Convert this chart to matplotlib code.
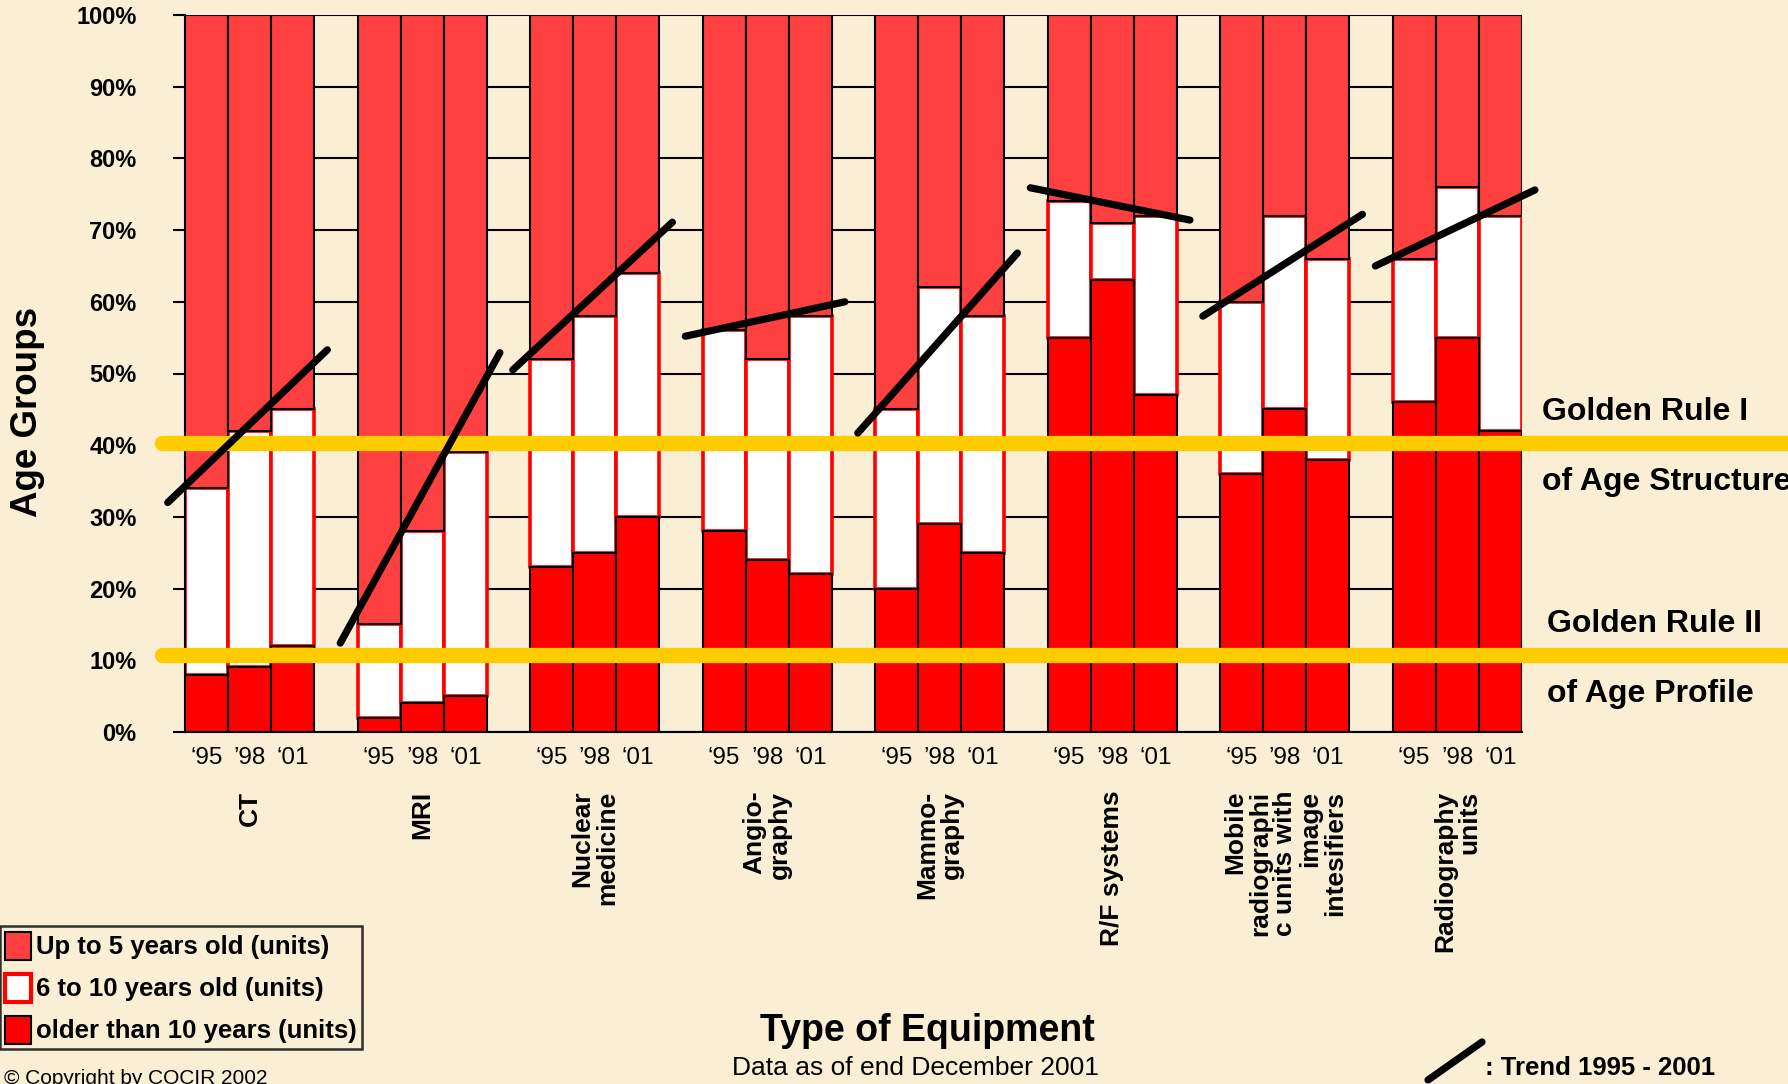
import matplotlib
matplotlib.use("Agg")
import matplotlib.pyplot as plt
from matplotlib.patches import Patch
from matplotlib.lines import Line2D

plt.rcParams['font.family'] = ['Liberation Sans', 'DejaVu Sans']

# data (percent of installed base)
categories = ["CT", "MRI", "Nuclear\nmedicine", "Angio-\ngraphy", "Mammo-\ngraphy",
              "R/F systems", "Mobile\nradiographi\nc units with\nimage\nintesifiers",
              "Radiography\nunits"]
years = ["\u201895", "\u201998", "\u201801"]

older = [8, 9, 12, 2, 4, 5, 23, 25, 30, 28, 24, 22,
         20, 29, 25, 55, 63, 47, 36, 45, 38, 46, 55, 42]
mid = [26, 33, 33, 13, 24, 34, 29, 33, 34, 28, 28, 36,
       25, 33, 33, 19, 8, 25, 24, 27, 28, 20, 21, 30]
young = [66, 58, 55, 85, 72, 61, 48, 42, 36, 44, 48, 42,
         55, 38, 42, 26, 29, 28, 40, 28, 34, 34, 24, 28]

trend_start = [32, 12.4, 50.5, 55.2, 41.7, 75.9, 58, 65]
trend_end = [53.3, 52.9, 71.1, 60, 66.8, 71.4, 72.2, 75.6]

golden_rules = [40.3, 10.7]

bg = "#FAEED5"
c_young = "#FF4040"
c_older = "#FF0000"
c_gold = "#FFCC00"

fig = plt.figure(figsize=(17.88, 10.84), dpi=100, facecolor=bg)
ax = fig.add_axes([185 / 1788, 1 - 732 / 1084, 1337 / 1788, 717 / 1084])
ax.set_facecolor("none")

xs = [4 * g + i for g in range(len(categories)) for i in range(3)]
bottom_mid = older
bottom_young = [o + m for o, m in zip(older, mid)]

ax.bar(xs, mid, 1, bottom=bottom_mid, align="edge", color="white",
       edgecolor=c_older, linewidth=2.6, zorder=2)
ax.bar(xs, older, 1, align="edge", color=c_older, edgecolor="black",
       linewidth=1.5, zorder=3)
ax.bar(xs, young, 1, bottom=bottom_young, align="edge", color=c_young,
       edgecolor="black", linewidth=1.5, zorder=3)

# golden rules
for lvl in golden_rules:
    ax.plot([-0.53, 37.5], [lvl, lvl], color=c_gold, lw=11,
            solid_capstyle="round", clip_on=False, zorder=5)

# trend lines
for g, (s, e) in enumerate(zip(trend_start, trend_end)):
    ax.plot([4 * g - 0.4, 4 * g + 3.3], [s, e], color="black", lw=5.2,
            solid_capstyle="round", clip_on=False, zorder=6)

ax.set_xlim(0, 31)
ax.set_ylim(0, 100)
ax.set_yticks(range(0, 101, 10))
ax.set_yticklabels([f"{v}%" for v in range(0, 101, 10)], fontsize=17,
                   fontweight="bold")
ax.tick_params(axis="y", length=9, width=1.5, pad=26)
ax.set_xticks([x + 0.5 for x in xs])
ax.set_xticklabels(years * len(categories), fontsize=17.5)
ax.tick_params(axis="x", length=0, pad=11)
ax.yaxis.grid(True, color="black", lw=1.5, zorder=0)
ax.set_axisbelow(True)
for side in ["top", "right"]:
    ax.spines[side].set_visible(False)
for side in ["left", "bottom"]:
    ax.spines[side].set_linewidth(1.5)

trans = ax.get_xaxis_transform()
for g, name in enumerate(categories):
    ax.text(4 * g + 1.5, -0.082, name, transform=trans, rotation=90,
            rotation_mode="anchor", ha="right", va="center",
            multialignment="right", fontsize=19, fontweight="bold",
            linespacing=1.05)

# surrounding texts
fig.text(28 / 1788, 1 - 412 / 1084, "Age Groups", rotation=90, ha="center",
         va="center", fontsize=26.5, fontweight="bold")
fig.text(927 / 1788, 1 - 1031 / 1084, "Type of Equipment", ha="center",
         va="center", fontsize=27, fontweight="bold")
fig.text(915 / 1788, 1 - 1068 / 1084, "Data as of end December 2001",
         ha="center", va="center", fontsize=19)
fig.text(1485 / 1788, 1 - 1068 / 1084, ": Trend 1995 - 2001", ha="left",
         va="center", fontsize=18.5, fontweight="bold")
fig.lines.append(Line2D([1428 / 1788, 1482 / 1788],
                        [1 - 1080 / 1084, 1 - 1042 / 1084],
                        transform=fig.transFigure, color="black", lw=5.2,
                        solid_capstyle="round"))
fig.text(4 / 1788, 1 - 1078 / 1084, "\u00a9 Copyright by COCIR 2002",
         ha="left", va="center", fontsize=15)

rule_texts = [("Golden Rule I", 1542, 412), ("of Age Structure", 1542, 482),
              ("Golden Rule II", 1547, 624), ("of Age Profile", 1547, 694)]
for txt, px, py in rule_texts:
    fig.text(px / 1788, 1 - py / 1084, txt, ha="left", va="center",
             fontsize=23, fontweight="bold")

handles = [Patch(facecolor=c_young, edgecolor="black", lw=1.5),
           Patch(facecolor="white", edgecolor=c_older, lw=3),
           Patch(facecolor=c_older, edgecolor="black", lw=1.5)]
labels = ["Up to 5 years old (units)", "6 to 10 years old (units)",
          "older than 10 years (units)"]
leg = fig.legend(handles, labels, loc="lower left",
                 bbox_to_anchor=(0.0, 1 - 1049 / 1084),
                 prop={"size": 18.5, "weight": "bold"}, frameon=True,
                 fancybox=False, edgecolor="black", facecolor="none",
                 handlelength=1.0, handleheight=1.3, handletextpad=0.2,
                 labelspacing=0.55, borderpad=0.2, borderaxespad=0)
leg.get_frame().set_linewidth(1.8)

fig.savefig("out.png", dpi=100, facecolor=bg)
